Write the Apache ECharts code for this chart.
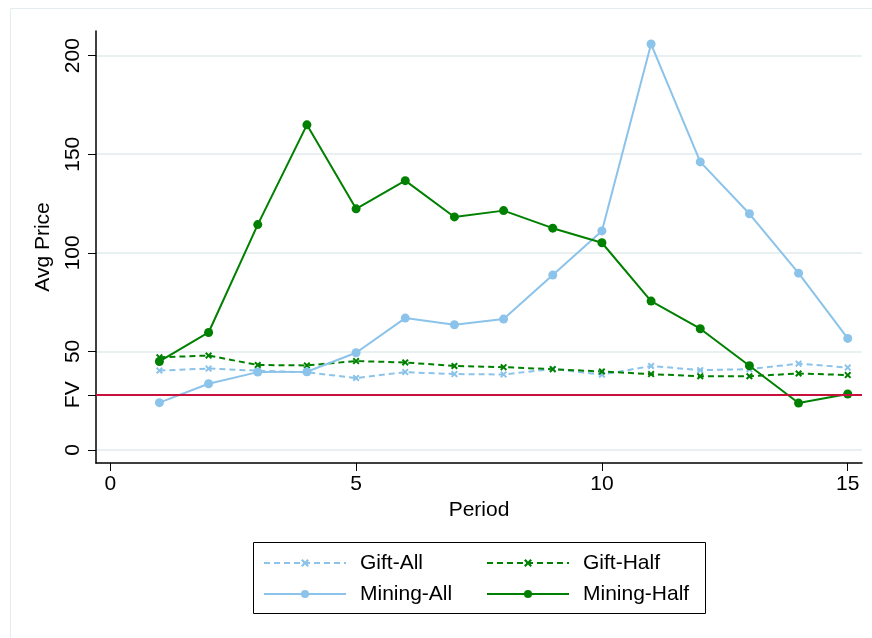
<!DOCTYPE html>
<html>
  <head>
    <title></title>
    <meta charset="UTF-8" />
    <script src="https://cdn.jsdelivr.net/npm/echarts@6/dist/echarts.min.js"></script>
  </head>
  <body style="margin:0;background:#fff">
    <div id="main"></div>
    <script>
      const width = 872;
      const height = 638;
      const main = document.getElementById('main');
      main.style.width = `${width}px`;
      main.style.height = `${height}px`;

      const periods = [1, 2, 3, 4, 5, 6, 7, 8, 9, 10, 11, 12, 13, 14, 15];
      const giftAll = [40.3, 41.3, 40.2, 39.4, 36.5, 39.5, 38.5, 38.3, 41.1, 38.2, 42.6, 40.5, 41.0, 43.8, 41.8];
      const giftHalf = [47.0, 47.9, 43.1, 42.9, 45.1, 44.4, 42.6, 42.0, 41.0, 39.8, 38.5, 37.4, 37.4, 38.8, 38.0];
      const miningAll = [24.0, 33.6, 39.5, 39.7, 49.3, 66.9, 63.5, 66.4, 88.7, 111.1, 205.9, 146.1, 119.8, 89.7, 56.6];
      const miningHalf = [44.9, 59.6, 114.3, 164.9, 122.3, 136.6, 118.2, 121.4, 112.5, 105.1, 75.5, 61.5, 42.7, 23.8, 28.4];
      const fv = 28;
      const yTicks = [0, fv, 50, 100, 150, 200];
      const xTicks = [0, 5, 10, 15];

      const blue = '#8bc3ea';
      const green = '#008000';
      const font = 'Liberation Sans, Arial, sans-serif';
      const crossSymbol = 'path://M0,2L2,0L5,3L8,0L10,2L7,5L10,8L8,10L5,7L2,10L0,8L3,5Z';

      const pairs = (ys) => periods.map((p, i) => [p, ys[i]]);

      const myChart = echarts.init(main);
      const option = {
        animation: false,
        backgroundColor: '#fff',
        textStyle: { fontFamily: font },
        graphic: [
          {
            type: 'rect',
            shape: { x: 10.5, y: 8.5, width: 900, height: 700 },
            style: { fill: 'none', stroke: '#e3edf0', lineWidth: 1 },
            silent: true,
          },
          {
            type: 'rect',
            shape: { x: 253.5, y: 542.5, width: 452, height: 71 },
            style: { fill: 'none', stroke: '#000', lineWidth: 1 },
            silent: true,
          },
        ],
        grid: { left: 96, right: 10, top: 31, bottom: 175 },
        legend: [
          {
            data: ['Gift-All', 'Mining-All'],
            orient: 'vertical',
            left: 263,
            top: 551,
            padding: 0,
            itemWidth: 82,
            itemHeight: 10,
            itemGap: 7,
            textStyle: { fontSize: 21, fontFamily: font, color: '#000', lineHeight: 24, padding: [0, 0, 0, 9] },
          },
          {
            data: ['Gift-Half', 'Mining-Half'],
            orient: 'vertical',
            left: 486,
            top: 551,
            padding: 0,
            itemWidth: 82,
            itemHeight: 10,
            itemGap: 7,
            textStyle: { fontSize: 21, fontFamily: font, color: '#000', lineHeight: 24, padding: [0, 0, 0, 9] },
          },
        ],
        xAxis: {
          type: 'value',
          min: -0.29,
          max: 15.29,
          name: 'Period',
          nameLocation: 'middle',
          nameGap: 34,
          nameTextStyle: { fontSize: 21, color: '#000', fontFamily: font },
          axisLine: { onZero: false, lineStyle: { color: '#000', width: 1.5 } },
          axisTick: { length: 8, lineStyle: { color: '#000' }, customValues: xTicks },
          axisLabel: { fontSize: 21, color: '#000', margin: 11, customValues: xTicks },
          splitLine: { show: false },
        },
        yAxis: {
          type: 'value',
          min: -6.6,
          max: 212.5,
          name: 'Avg Price',
          nameLocation: 'middle',
          nameGap: 42,
          nameTextStyle: { fontSize: 21, color: '#000', fontFamily: font },
          axisLine: { show: true, onZero: false, lineStyle: { color: '#000', width: 1.5 } },
          axisTick: { show: true, length: 8, lineStyle: { color: '#000' }, customValues: yTicks },
          axisLabel: {
            fontSize: 21,
            color: '#000',
            rotate: 90,
            margin: 12,
            customValues: yTicks,
            formatter: (v) => (v === fv ? 'FV' : String(v)),
          },
          splitLine: { show: true, lineStyle: { color: '#e8f0f2', width: 2 } },
        },
        series: [
          {
            name: 'Gift-All',
            type: 'line',
            data: pairs(giftAll),
            symbol: crossSymbol,
            symbolSize: 7,
            lineStyle: { color: blue, width: 2, type: [6, 4] },
            itemStyle: { color: blue },
            markLine: {
              silent: true,
              symbol: 'none',
              label: { show: false },
              lineStyle: { color: '#c8103c', width: 2, type: 'solid' },
              data: [{ yAxis: fv }],
            },
          },
          {
            name: 'Gift-Half',
            type: 'line',
            data: pairs(giftHalf),
            symbol: crossSymbol,
            symbolSize: 7,
            lineStyle: { color: green, width: 2, type: [6, 4] },
            itemStyle: { color: green },
          },
          {
            name: 'Mining-All',
            type: 'line',
            data: pairs(miningAll),
            symbol: 'circle',
            symbolSize: 9,
            lineStyle: { color: blue, width: 2 },
            itemStyle: { color: blue },
          },
          {
            name: 'Mining-Half',
            type: 'line',
            data: pairs(miningHalf),
            symbol: 'circle',
            symbolSize: 9,
            lineStyle: { color: green, width: 2 },
            itemStyle: { color: green },
          },
        ],
      };
      myChart.setOption(option);
    </script>
  </body>
</html>
